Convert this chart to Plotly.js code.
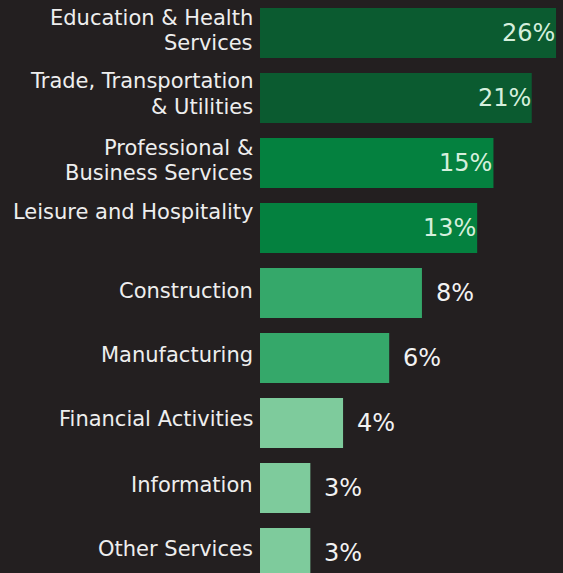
<!DOCTYPE html>
<html>
<head>
<meta charset="utf-8">
<script src="https://cdn.plot.ly/plotly-3.0.1.min.js"></script>
<style>
  html, body { margin: 0; padding: 0; background: #231f20; }
  #chart { width: 563px; height: 573px; }
</style>
</head>
<body>
<div id="chart"></div>
<script>
// ---- data ----
const sectors = [
  "Education & Health<br>Services",
  "Trade, Transportation<br>& Utilities",
  "Professional &<br>Business Services",
  "Leisure and Hospitality",
  "Construction",
  "Manufacturing",
  "Financial Activities",
  "Information",
  "Other Services"
];
const shares = [26, 21, 15, 13, 8, 6, 4, 3, 3];
const shareLabels = ["26%", "21%", "15%", "13%", "8%", "6%", "4%", "3%", "3%"];

// ---- styles ----
const barColors = ["#0b5b30", "#0b5b30", "#04813f", "#04813f", "#35a86a", "#35a86a", "#7ecb9c", "#7ecb9c", "#7ecb9c"];
const labelInside = [true, true, true, true, false, false, false, false, false];
const catShift = [2.5, 4, 2.5, 16, 2, 3, 4, 3, 4];
const LINE_GAP = 25.5;
const FONT = "'DejaVu Sans', 'Noto Sans', sans-serif";

const trace = {
  type: "bar",
  orientation: "h",
  y: sectors,
  x: shares,
  marker: { color: barColors, line: { width: 0 } },
  hoverinfo: "none",
  showlegend: false
};

const annotations = [];
sectors.forEach((s, i) => {
  const lines = s.split("<br>");
  const n = lines.length;
  lines.forEach((ln, k) => {
    annotations.push({
      xref: "paper", yref: "y", x: 0, y: s,
      text: ln, showarrow: false,
      xanchor: "right", yanchor: "middle", align: "right",
      xshift: -5, yshift: catShift[i] + ((n - 1) / 2 - k) * LINE_GAP,
      font: { family: FONT, size: 21, color: "#eeeeee" }
    });
  });
  annotations.push({
    xref: "x", yref: "y", x: Math.log10(shares[i]), y: s,
    text: shareLabels[i], showarrow: false,
    xanchor: labelInside[i] ? "right" : "left", yanchor: "middle",
    xshift: labelInside[i] ? 1 : 12, yshift: 0,
    font: { family: FONT, size: 24, color: labelInside[i] ? "#d6efdd" : "#f2f2f2" }
  });
});

const layout = {
  width: 563, height: 573,
  margin: { l: 260, r: 0, t: 0, b: 0, pad: 0 },
  paper_bgcolor: "#231f20",
  plot_bgcolor: "#231f20",
  bargap: 0.23,
  xaxis: {
    type: "log",
    range: [0.285, 1.4415],
    visible: false, showgrid: false, zeroline: false, fixedrange: true
  },
  yaxis: {
    type: "category",
    categoryorder: "array", categoryarray: sectors,
    range: [8.308, -0.508],
    showticklabels: false, showgrid: false, zeroline: false, showline: false, ticks: "",
    fixedrange: true
  },
  annotations: annotations
};

Plotly.newPlot("chart", [trace], layout, { displayModeBar: false, staticPlot: true });
</script>
</body>
</html>
